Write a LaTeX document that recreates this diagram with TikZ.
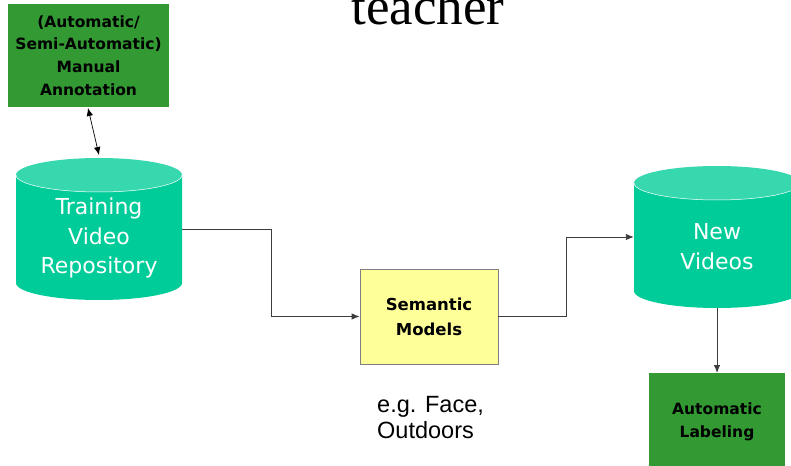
\documentclass[tikz,border=0pt]{standalone}
\usepackage{fontspec}
\setmainfont{DejaVu Sans}
\newfontfamily\serifface{Liberation Serif}
\newfontfamily\arialface{Liberation Sans}
\usetikzlibrary{arrows.meta}

\definecolor{boxgreen}{RGB}{51,153,51}
\definecolor{cylbody}{RGB}{0,204,153}
\definecolor{cyltop}{RGB}{56,216,174}
\definecolor{modelyellow}{RGB}{255,255,153}
\definecolor{wire}{RGB}{60,60,60}

\tikzset{
  greenbox/.style={fill=boxgreen, draw=none, inner sep=0pt, align=center,
    font=\fontsize{15.5}{22.7}\selectfont\bfseries, text=black},
  modelbox/.style={fill=modelyellow, draw=gray, line width=0.8pt, inner sep=0pt,
    align=center, font=\fontsize{16.5}{25}\selectfont\bfseries},
  cylslot/.style={inner sep=0pt, draw=none},
  cyltext/.style={text=white, align=center, font=\fontsize{22}{29.5}\selectfont},
  link/.style={draw=wire, line width=0.9pt, -{Latex[length=8pt,width=6.5pt]}},
  biarrow/.style={draw=black, line width=0.7pt, {Latex[length=8pt,width=6.5pt]}-{Latex[length=8pt,width=6.5pt]}},
}

\begin{document}
\begin{tikzpicture}[x=1pt, y=-1pt]
  \useasboundingbox (0,0) rectangle (791,465);
  \clip (0,0) rectangle (791,465);

  % heading, partly cut off at the top
  \node[anchor=base, inner sep=0pt, font=\serifface\fontsize{53}{53}\selectfont] (title) at (428,25) {teacher};

  % annotation box
  \node[greenbox, minimum width=161pt, minimum height=103pt] (annot) at (88.5,55.5)
    {(Automatic/\\Semi-Automatic)\\Manual\\Annotation};

  % training repository cylinder
  \fill[cylbody] (16,175) -- (16,283) arc[start angle=180, end angle=0, x radius=83, y radius=17] -- (182,175) -- cycle;
  \fill[cyltop] (99,175) ellipse[x radius=83, y radius=17];
  \draw[white, line width=0.5pt] (16,175) arc[start angle=180, end angle=0, x radius=83, y radius=17];
  \node[cylslot, minimum width=166pt, minimum height=142pt] (train) at (99,229) {};
  \node[cyltext] (traintext) at (99,238) {Training\\Video\\Repository};

  % new videos cylinder
  \fill[cylbody] (634,183) -- (634,291) arc[start angle=180, end angle=0, x radius=83, y radius=17] -- (800,183) -- cycle;
  \fill[cyltop] (717,183) ellipse[x radius=83, y radius=17];
  \draw[white, line width=0.5pt] (634,183) arc[start angle=180, end angle=0, x radius=83, y radius=17];
  \node[cylslot, minimum width=166pt, minimum height=142pt] (newvid) at (717,237) {};
  \node[cyltext] (newtext) at (717,246.5) {New\\Videos};

  % semantic models box
  \node[modelbox, minimum width=138pt, minimum height=95pt] (models) at (429,316.5) {Semantic\\Models};
  \node[anchor=north west, inner sep=0pt, align=left, font=\arialface\fontsize{23.5}{26}\selectfont] (examples) at (377,396.5)
    {e.g. Face,\\Outdoors};

  % labeling box
  \node[greenbox, minimum width=136pt, minimum height=100pt, anchor=north] (label) at (717,373)
    {};
  \node[inner sep=0pt, align=center, font=\fontsize{15.5}{22.7}\selectfont\bfseries] (labeltext) at (717,422) {Automatic\\Labeling};

  % connectors
  \draw[biarrow] (88,108) -- (99,155);
  \draw[link] (train.east) -- ++(89,0) |- (models.west);
  \draw[link] (models.east) -- ++(68,0) |- (newvid.west);
  \draw[link] (newvid.south) -- (label.north);
\end{tikzpicture}
\end{document}
